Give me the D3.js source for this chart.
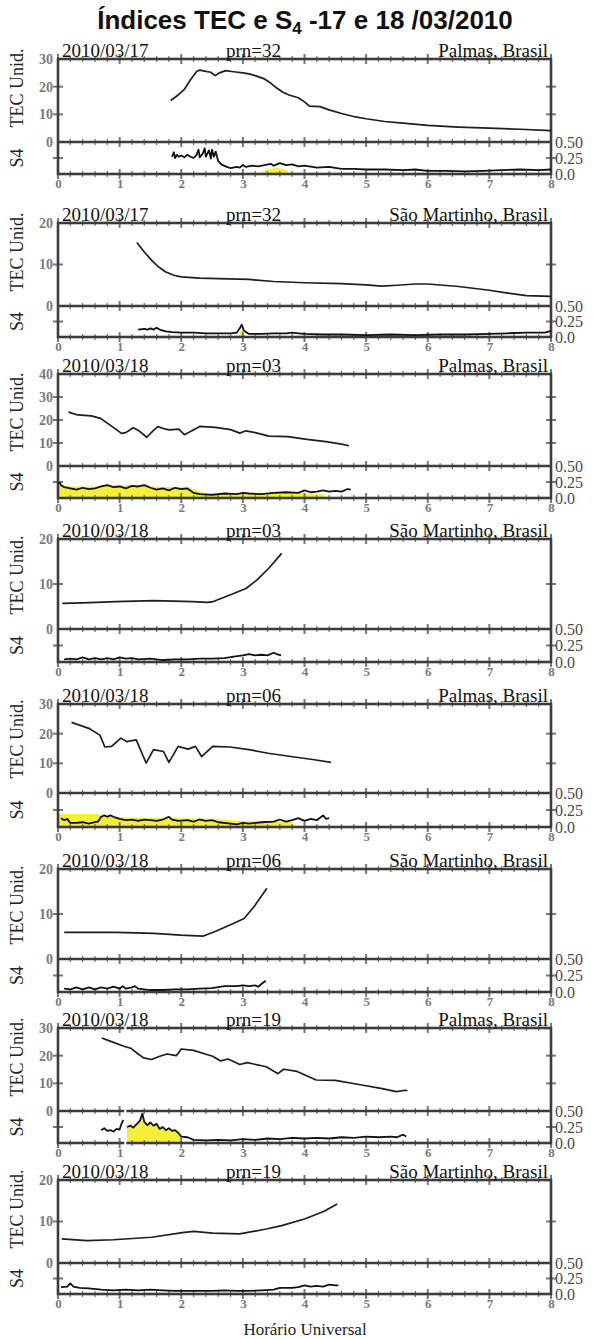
<!DOCTYPE html>
<html><head><meta charset="utf-8">
<script src="https://cdn.jsdelivr.net/npm/d3@7"></script>
<style>body{margin:0;background:#fff}</style>
</head><body>
<svg id="c" width="605" height="1339"></svg>
<script>
// ---------- data ----------
const hourTicks = [0,1,2,3,4,5,6,7,8];
const dates = ["2010/03/17","2010/03/17","2010/03/18","2010/03/18","2010/03/18","2010/03/18","2010/03/18","2010/03/18"];
const prns = ["prn=32","prn=32","prn=03","prn=03","prn=06","prn=06","prn=19","prn=19"];
const stations = ["Palmas, Brasil","São Martinho, Brasil","Palmas, Brasil","São Martinho, Brasil","Palmas, Brasil","São Martinho, Brasil","Palmas, Brasil","São Martinho, Brasil"];
const tecMax = [30,20,40,20,30,20,30,20];
const s4Labels = ["0.0","0.25","0.50"];

const tec1 = [[1.83,15],[1.95,17],[2.05,19],[2.15,22.5],[2.25,25.5],[2.3,26],[2.4,25.5],[2.48,25.2],[2.55,24],[2.62,25],[2.72,25.8],[2.85,25.4],[3.0,25],[3.1,24.6],[3.2,24],[3.35,22.8],[3.45,21.3],[3.55,19.5],[3.65,18],[3.75,17],[3.9,16],[4.0,14.5],[4.08,13],[4.25,12.8],[4.4,11.6],[4.6,10.3],[4.8,9.2],[5.0,8.4],[5.3,7.4],[5.6,6.8],[6.0,6.0],[6.5,5.4],[7.0,5.0],[7.5,4.6],[8.0,4.1]];
const tec2 = [[1.28,15.3],[1.4,13],[1.54,10.7],[1.65,9.2],[1.75,8.2],[1.88,7.4],[2.0,7.0],[2.3,6.7],[2.6,6.6],[3.1,6.4],[3.5,5.9],[4.0,5.6],[4.6,5.4],[5.0,5.1],[5.25,4.8],[5.5,5.0],[5.8,5.3],[6.0,5.3],[6.5,4.7],[7.0,3.8],[7.3,3.1],[7.6,2.5],[8.0,2.3]];
const tec3 = [[0.17,23.4],[0.32,22.2],[0.54,21.8],[0.69,20.7],[0.88,17.1],[1.03,14.2],[1.1,14.5],[1.22,16.6],[1.32,15.2],[1.44,12.5],[1.55,15.5],[1.62,17.1],[1.75,16],[1.81,15.7],[1.96,16],[2.05,13.6],[2.15,15],[2.3,17.2],[2.55,16.8],[2.8,15.8],[2.95,14.3],[3.05,15.3],[3.2,14.5],[3.42,13],[3.73,12.8],[4.04,11.6],[4.35,10.6],[4.6,9.5],[4.72,8.8]];
const tec4 = [[0.07,5.7],[0.4,5.8],[0.94,6.1],[1.56,6.3],[2.18,6.1],[2.43,5.9],[2.52,6.1],[2.8,7.6],[3.05,9.0],[3.23,10.9],[3.42,13.5],[3.63,16.8]];
const tec5 = [[0.22,23.8],[0.5,21.8],[0.68,19.5],[0.76,15.5],[0.87,15.7],[1.02,18.5],[1.12,17.3],[1.18,17.6],[1.27,17.9],[1.43,10.1],[1.55,14.6],[1.71,14],[1.8,10.3],[1.95,15.7],[2.11,14.8],[2.23,15.7],[2.33,12.3],[2.51,15.7],[2.79,15.5],[3.1,14.6],[3.41,13.4],[3.78,12.3],[4.16,11.2],[4.43,10.3]];
const tec6 = [[0.1,5.9],[0.94,5.9],[1.56,5.7],[1.99,5.3],[2.36,5.1],[2.55,6.1],[2.8,7.6],[3.02,9.0],[3.18,11.6],[3.39,15.7]];
const tec7 = [[0.71,26.4],[0.9,24.8],[1.08,23.3],[1.18,22.7],[1.3,20.6],[1.39,19.2],[1.52,18.6],[1.64,19.7],[1.77,20.6],[1.92,20.0],[2.0,22.4],[2.2,21.9],[2.4,20.5],[2.51,19.8],[2.64,18.1],[2.76,18.8],[2.95,16.8],[3.07,17.5],[3.38,16.0],[3.57,13.5],[3.66,15.1],[3.88,14.3],[4.19,11.2],[4.5,11.1],[4.93,9.4],[5.24,8.2],[5.49,7.0],[5.64,7.5],[5.67,7.3]];
const tec8 = [[0.06,5.8],[0.47,5.4],[0.9,5.6],[1.52,6.2],[2.02,7.3],[2.2,7.6],[2.51,7.2],[2.95,7.0],[3.38,8.2],[3.63,9.0],[4.0,10.6],[4.31,12.4],[4.53,14.2]];

const s4_1 = [[1.85,0.27],[1.88,0.34],[1.9,0.25],[1.93,0.3],[1.96,0.27],[2.0,0.29],[2.05,0.26],[2.1,0.3],[2.15,0.27],[2.2,0.25],[2.25,0.3],[2.28,0.38],[2.3,0.26],[2.35,0.32],[2.38,0.4],[2.4,0.27],[2.45,0.37],[2.48,0.24],[2.5,0.38],[2.53,0.27],[2.56,0.35],[2.6,0.2],[2.65,0.15],[2.72,0.12],[2.8,0.09],[2.9,0.11],[2.95,0.1],[3.0,0.14],[3.05,0.11],[3.15,0.13],[3.25,0.12],[3.35,0.14],[3.45,0.16],[3.5,0.13],[3.6,0.17],[3.7,0.14],[3.8,0.15],[3.9,0.12],[4.0,0.13],[4.2,0.1],[4.4,0.11],[4.6,0.08],[4.8,0.08],[5.0,0.07],[5.3,0.07],[5.6,0.06],[5.8,0.07],[6.0,0.05],[6.3,0.05],[6.6,0.04],[6.9,0.05],[7.2,0.06],[7.5,0.07],[7.8,0.06],[8.0,0.07]];
const s4_2 = [[1.3,0.12],[1.4,0.13],[1.45,0.12],[1.5,0.14],[1.55,0.12],[1.6,0.15],[1.65,0.12],[1.75,0.09],[1.85,0.08],[2.0,0.07],[2.2,0.07],[2.4,0.06],[2.6,0.06],[2.8,0.06],[2.9,0.07],[2.95,0.14],[2.98,0.2],[3.02,0.1],[3.1,0.05],[3.3,0.05],[3.5,0.06],[3.7,0.06],[3.8,0.07],[3.9,0.06],[4.0,0.05],[4.3,0.04],[4.6,0.04],[5.0,0.03],[5.4,0.04],[5.8,0.03],[6.2,0.04],[6.6,0.04],[7.0,0.05],[7.3,0.06],[7.6,0.07],[7.9,0.07],[8.0,0.1]];
const s4_3 = [[0.02,0.25],[0.05,0.2],[0.1,0.17],[0.2,0.15],[0.3,0.13],[0.4,0.16],[0.5,0.14],[0.6,0.15],[0.7,0.18],[0.8,0.2],[0.9,0.17],[1.0,0.18],[1.1,0.15],[1.2,0.19],[1.3,0.18],[1.4,0.2],[1.5,0.16],[1.6,0.13],[1.7,0.15],[1.8,0.12],[1.9,0.16],[2.0,0.14],[2.1,0.15],[2.2,0.08],[2.3,0.06],[2.5,0.05],[2.7,0.07],[2.9,0.06],[3.0,0.08],[3.1,0.07],[3.3,0.06],[3.5,0.08],[3.7,0.09],[3.9,0.08],[4.0,0.12],[4.1,0.09],[4.2,0.1],[4.3,0.12],[4.4,0.1],[4.5,0.11],[4.6,0.1],[4.7,0.14],[4.75,0.13]];
const s4_4 = [[0.1,0.04],[0.2,0.05],[0.3,0.04],[0.4,0.07],[0.5,0.04],[0.6,0.06],[0.7,0.04],[0.8,0.06],[0.9,0.04],[1.0,0.07],[1.1,0.05],[1.2,0.06],[1.3,0.04],[1.5,0.05],[1.7,0.03],[1.9,0.04],[2.1,0.04],[2.3,0.05],[2.5,0.05],[2.7,0.06],[2.85,0.08],[3.0,0.1],[3.1,0.12],[3.2,0.1],[3.3,0.11],[3.4,0.1],[3.5,0.14],[3.55,0.12],[3.62,0.1]];
const s4_5 = [[0.05,0.13],[0.1,0.1],[0.15,0.12],[0.2,0.06],[0.3,0.06],[0.4,0.07],[0.5,0.05],[0.6,0.07],[0.65,0.08],[0.7,0.15],[0.75,0.17],[0.8,0.15],[0.85,0.17],[0.9,0.15],[1.0,0.12],[1.1,0.1],[1.2,0.11],[1.3,0.09],[1.4,0.11],[1.5,0.1],[1.6,0.09],[1.7,0.11],[1.8,0.15],[1.85,0.11],[1.95,0.09],[2.1,0.1],[2.2,0.08],[2.3,0.11],[2.4,0.09],[2.5,0.1],[2.6,0.07],[2.8,0.05],[2.9,0.04],[3.0,0.06],[3.1,0.05],[3.3,0.07],[3.5,0.08],[3.6,0.11],[3.7,0.08],[3.8,0.1],[3.9,0.13],[4.0,0.09],[4.1,0.12],[4.2,0.1],[4.3,0.17],[4.35,0.12],[4.4,0.13]];
const s4_6 = [[0.1,0.05],[0.2,0.04],[0.3,0.07],[0.4,0.04],[0.5,0.07],[0.6,0.04],[0.7,0.07],[0.8,0.05],[0.9,0.08],[1.0,0.05],[1.05,0.09],[1.1,0.05],[1.2,0.07],[1.25,0.09],[1.3,0.05],[1.5,0.03],[1.7,0.03],[1.9,0.04],[2.1,0.04],[2.3,0.05],[2.5,0.06],[2.7,0.09],[2.9,0.09],[3.0,0.1],[3.1,0.09],[3.2,0.1],[3.25,0.08],[3.3,0.12],[3.37,0.17]];
const s4_7 = [[0.7,0.2],[0.75,0.23],[0.8,0.19],[0.85,0.2],[0.9,0.18],[0.95,0.22],[1.0,0.21],[1.03,0.3],[1.06,0.36],[1.09,null],[1.12,0.25],[1.18,0.27],[1.22,0.24],[1.28,0.3],[1.33,0.35],[1.37,0.46],[1.4,0.33],[1.45,0.28],[1.5,0.32],[1.55,0.27],[1.6,0.3],[1.65,0.22],[1.7,0.25],[1.75,0.2],[1.8,0.23],[1.85,0.19],[1.9,0.2],[1.95,0.16],[2.0,0.1],[2.1,0.09],[2.2,0.05],[2.4,0.04],[2.6,0.05],[2.8,0.04],[3.0,0.06],[3.2,0.05],[3.4,0.07],[3.6,0.06],[3.8,0.08],[4.0,0.07],[4.2,0.08],[4.4,0.07],[4.6,0.09],[4.8,0.08],[5.0,0.1],[5.2,0.09],[5.4,0.1],[5.5,0.09],[5.6,0.13],[5.65,0.1]];
const s4_8 = [[0.05,0.11],[0.15,0.12],[0.2,0.17],[0.25,0.12],[0.35,0.1],[0.5,0.09],[0.7,0.07],[0.9,0.06],[1.1,0.07],[1.3,0.06],[1.5,0.07],[1.7,0.06],[1.9,0.05],[2.1,0.05],[2.3,0.05],[2.5,0.05],[2.7,0.06],[2.9,0.05],[3.1,0.05],[3.3,0.06],[3.5,0.07],[3.6,0.1],[3.8,0.1],[3.9,0.11],[4.0,0.14],[4.1,0.12],[4.2,0.13],[4.3,0.12],[4.4,0.15],[4.5,0.14],[4.55,0.14]];

const fill1 = [[3.3,0.0],[3.35,0.06],[3.45,0.08],[3.55,0.1],[3.65,0.08],[3.72,0.05],[3.75,0.0]];
const fill2 = [[2.93,0.0],[2.97,0.12],[3.0,0.14],[3.03,0.0]];
const fill3 = [[0.0,0.19],[0.3,0.18],[0.6,0.18],[0.9,0.2],[1.2,0.2],[1.5,0.18],[1.8,0.17],[2.1,0.17],[2.3,0.1],[2.4,0.08],[3.0,0.08],[3.5,0.08],[4.0,0.07],[4.3,0.06],[4.35,0.0]];
const fill4 = [];
const fill5 = [[0.0,0.19],[0.65,0.19],[0.7,0.16],[1.0,0.14],[2.0,0.13],[2.5,0.12],[3.0,0.09],[3.5,0.08],[3.8,0.07],[3.85,0.0]];
const fill6 = [];
const fill7 = [[1.12,0.25],[1.18,0.27],[1.22,0.24],[1.28,0.3],[1.33,0.35],[1.37,0.46],[1.4,0.33],[1.45,0.28],[1.5,0.32],[1.55,0.27],[1.6,0.3],[1.65,0.22],[1.7,0.25],[1.75,0.2],[1.8,0.23],[1.85,0.19],[1.9,0.2],[1.95,0.16],[2.0,0.1]];
const fill8 = [];

const tecSeries = [tec1,tec2,tec3,tec4,tec5,tec6,tec7,tec8];
const s4Series = [s4_1,s4_2,s4_3,s4_4,s4_5,s4_6,s4_7,s4_8];
const fillSeries = [fill1,fill2,fill3,fill4,fill5,fill6,fill7,fill8];

// ---------- layout ----------
const panelTop =    [59, 223, 374, 539, 704, 869, 1028, 1180];
const panelZero =   [142, 306, 466, 629, 793, 959, 1111, 1263];
const panelBottom = [174, 337, 498, 662, 827, 992, 1143, 1294];
const L = 58, R = 551;

const svg = d3.select("#c");
svg.append("rect").attr("width",605).attr("height",1339).attr("fill","#fff");

const title = svg.append("text").attr("x",305).attr("y",29).attr("text-anchor","middle")
  .style("font-family","'Liberation Sans', Arial, sans-serif").attr("font-weight","bold")
  .attr("font-size",26).attr("fill","#111");
title.append("tspan").text("Índices TEC e S");
title.append("tspan").attr("dy",5).attr("font-size",17).text("4");
title.append("tspan").attr("dy",-5).text(" -17 e 18 /03/2010");

const x = d3.scaleLinear().domain([0,8]).range([L,R]);
const minor = d3.range(0, 8.0001, 0.2).map(v => Math.round(v*10)/10);
const frameCol = "#3c3c3c", tickCol = "#777";
const serif = "'Liberation Serif', 'Times New Roman', 'DejaVu Serif', serif";

for (let i = 0; i < 8; i++) {
  const top = panelTop[i], zero = panelZero[i], bot = panelBottom[i];
  const yT = d3.scaleLinear().domain([0, tecMax[i]]).range([zero, top]);
  const yS = d3.scaleLinear().domain([0, 0.5]).range([bot, zero]);
  const g = svg.append("g");

  // yellow S4 fill
  if (fillSeries[i].length) {
    g.append("path").datum(fillSeries[i])
      .attr("d", d3.area().x(d=>x(d[0])).y0(yS(0)).y1(d=>yS(d[1])))
      .attr("fill","#f6ee3a").attr("stroke","none");
  }

  // horizontal minor/major ticks on top, zero and bottom lines
  [top, zero, bot].forEach(yy => {
    g.selectAll(null).data(minor).enter().append("line")
      .attr("x1", d=>x(d)).attr("x2", d=>x(d))
      .attr("y1", d => yy - (Number.isInteger(d) ? 5 : 3))
      .attr("y2", d => yy + (Number.isInteger(d) ? 5 : 3))
      .attr("stroke", tickCol).attr("stroke-width", d => Number.isInteger(d) ? 2 : 1.3);
  });
  // vertical ticks left/right
  const tv = d3.range(10, tecMax[i], 10);
  [L, R].forEach(xx => {
    g.selectAll(null).data(tv).enter().append("line")
      .attr("x1", xx-5).attr("x2", xx+5).attr("y1", d=>yT(d)).attr("y2", d=>yT(d))
      .attr("stroke", tickCol).attr("stroke-width", 2);
    g.append("line").attr("x1", xx-5).attr("x2", xx+5).attr("y1", yS(0.25)).attr("y2", yS(0.25))
      .attr("stroke", tickCol).attr("stroke-width", 2);
  });

  // frame
  g.append("rect").attr("x",L).attr("y",top).attr("width",R-L).attr("height",bot-top)
    .attr("fill","none").attr("stroke",frameCol).attr("stroke-width",2.6);
  g.append("line").attr("x1",L).attr("x2",R).attr("y1",zero).attr("y2",zero)
    .attr("stroke",frameCol).attr("stroke-width",2.6);

  if (i === 6) {
    g.append("rect").attr("x", x(1.075)).attr("y", top-6).attr("width", x(1.11)-x(1.075)).attr("height", bot-top+12)
      .attr("fill","#fff");
  }

  // curves
  g.append("path").datum(tecSeries[i])
    .attr("d", d3.line().defined(d=>d[1]!=null).x(d=>x(d[0])).y(d=>yT(d[1])))
    .attr("fill","none").attr("stroke","#1e1e1e").attr("stroke-width",1.7).attr("stroke-linejoin","round");
  g.append("path").datum(s4Series[i])
    .attr("d", d3.line().defined(d=>d[1]!=null).x(d=>x(d[0])).y(d=>yS(d[1])))
    .attr("fill","none").attr("stroke","#111").attr("stroke-width",1.8).attr("stroke-linejoin","round");

  // left TEC tick labels
  const ax = g.append("g").attr("transform",`translate(${L-3},0)`)
    .call(d3.axisLeft(yT).tickValues(d3.range(0, tecMax[i]+1, 10)).tickSize(0).tickPadding(2).tickFormat(d3.format("d")));
  ax.select(".domain").remove();
  ax.attr("font-family", null).attr("font-size", null);
  ax.selectAll("text").style("font-family", serif).attr("font-weight","bold").attr("font-size",14).attr("fill","#7a7a7a");

  // right S4 labels
  const ar = g.append("g").attr("transform",`translate(${R+2},0)`)
    .call(d3.axisRight(yS).tickValues([0,0.25,0.5]).tickSize(0).tickPadding(2).tickFormat((d,k)=>s4Labels[k]));
  ar.select(".domain").remove();
  ar.attr("font-family", null).attr("font-size", null);
  ar.selectAll("text").style("font-family", serif).attr("font-size",16).attr("fill","#4a4a4a");

  // x labels
  const axb = g.append("g").attr("transform",`translate(0,${bot+3})`)
    .call(d3.axisBottom(x).tickValues(hourTicks).tickSize(0).tickPadding(2).tickFormat(d3.format("d")));
  axb.select(".domain").remove();
  axb.attr("font-family", null).attr("font-size", null);
  axb.selectAll("text").style("font-family", serif).attr("font-weight","bold").attr("font-size",13).attr("fill","#7a7a7a");

  // headers
  const hdr = (tx, xx, anchor) => g.append("text").attr("x",xx).attr("y",top-2).attr("text-anchor",anchor)
    .style("font-family",serif).attr("font-size",19).attr("fill","#111").text(tx);
  hdr(dates[i], 62, "start");
  hdr(prns[i], 226, "start");
  hdr(stations[i], 548, "end");

  // axis titles
  g.append("text").attr("transform",`translate(23,${zero-54}) rotate(-90)`).attr("text-anchor","middle")
    .style("font-family",serif).attr("font-size",18).attr("fill","#222").text("TEC Unid.");
  g.append("text").attr("transform",`translate(23,${(zero+bot)/2}) rotate(-90)`).attr("text-anchor","middle")
    .style("font-family",serif).attr("font-size",18).attr("fill","#222").text("S4");
}

svg.append("text").attr("x",305).attr("y",1335).attr("text-anchor","middle")
  .style("font-family",serif).attr("font-size",17).attr("fill","#222").text("Horário Universal");
</script>
</body></html>
